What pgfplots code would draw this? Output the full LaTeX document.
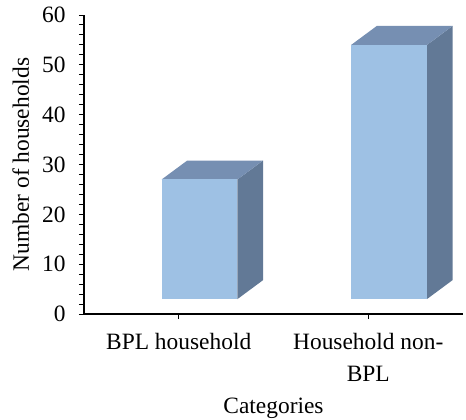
\documentclass[border=0pt]{standalone}
\usepackage{fontspec}
\setmainfont{Liberation Serif}
\usepackage{pgfplots}
\pgfplotsset{compat=1.18}

\definecolor{barfront}{RGB}{158,193,228}
\definecolor{bartop}{RGB}{118,143,178}
\definecolor{barside}{RGB}{98,121,150}

\newcommand\chartfont{\fontsize{23.5}{28.5}\selectfont}

\begin{document}
\begin{tikzpicture}
\useasboundingbox (-84bp,-106bp) rectangle (382bp,314bp);
\begin{axis}[
  at={(0,0)}, anchor=south west,
  scale only axis,
  width=379bp, height=299bp,
  xmin=-0.5, xmax=1.5,
  ymin=0, ymax=60,
  axis lines*=left,
  axis line style={line width=1.3pt, black},
  ytick={0,10,...,60},
  minor y tick num=4,
  xtick={0,1},
  xticklabels={BPL household, {Household non-\\[3bp]BPL}},
  tick align=outside,
  major tick length=5bp,
  minor tick length=5bp,
  tick style={line width=1pt, black},
  /pgf/number format/assume math mode=true,
  ticklabel style={font=\chartfont},
  yticklabel style={xshift=-10bp},
  xticklabel style={align=center, yshift=-11bp},
  label style={font=\chartfont},
  xlabel={Categories},
  ylabel={Number of households},
  xlabel style={yshift=-10bp},
  ylabel style={yshift=6bp},
  clip=false,
]
% BPL household: value 27 (front face standing on the 3-D floor at 3)
\addplot[fill=barside, draw=none] coordinates {(0.31,3) (0.445,6.8) (0.445,30.8) (0.31,27)} -- cycle;
\addplot[fill=bartop, draw=none] coordinates {(-0.09,27) (0.31,27) (0.445,30.8) (0.045,30.8)} -- cycle;
\addplot[fill=barfront, draw=none] coordinates {(-0.09,3) (0.31,3) (0.31,27) (-0.09,27)} -- cycle;
% Household non-BPL: value 54
\addplot[fill=barside, draw=none] coordinates {(1.31,3) (1.445,6.8) (1.445,57.8) (1.31,54)} -- cycle;
\addplot[fill=bartop, draw=none] coordinates {(0.91,54) (1.31,54) (1.445,57.8) (1.045,57.8)} -- cycle;
\addplot[fill=barfront, draw=none] coordinates {(0.91,3) (1.31,3) (1.31,54) (0.91,54)} -- cycle;
\end{axis}
\end{tikzpicture}
\end{document}
